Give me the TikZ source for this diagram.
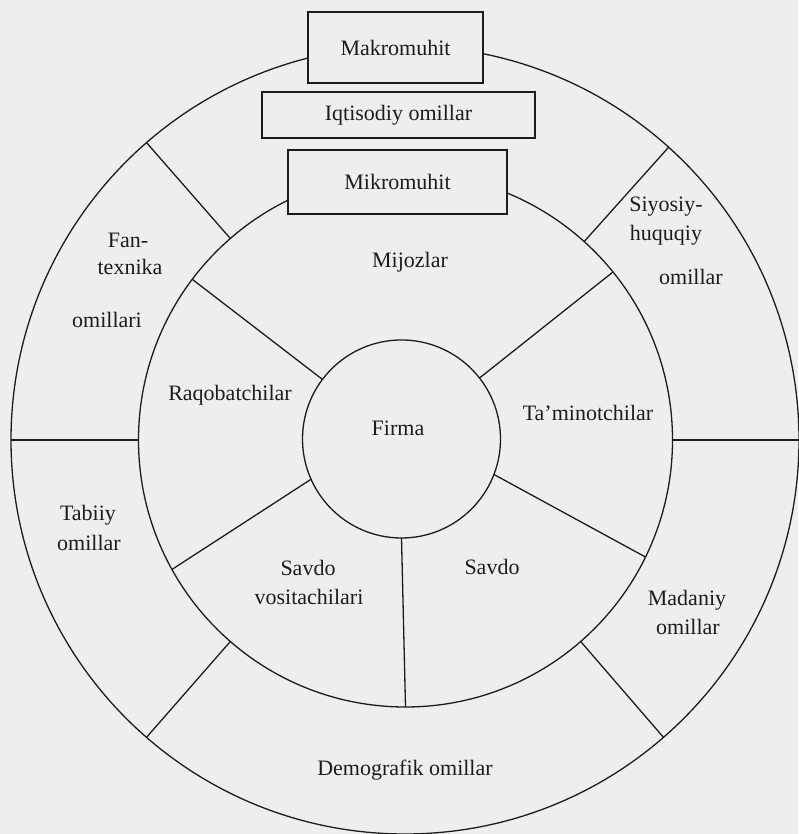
\documentclass[tikz,border=0pt]{standalone}
\usepackage{fontspec}
\setmainfont{Liberation Serif}
\definecolor{bg}{RGB}{238,238,238}
\definecolor{ink}{RGB}{28,28,28}
\begin{document}
\begin{tikzpicture}[x=1pt,y=1pt,
  ringc/.style={circle,draw=ink,line width=1.3pt,inner sep=0pt,outer sep=0pt},
  spoke/.style={draw=ink,line width=1.3pt},
  boxn/.style={draw=ink,line width=1.3pt,fill=bg,inner sep=0pt,outer sep=0pt,text=ink,font=\fontsize{22}{26}\selectfont},
  lbl/.style={text=ink,font=\fontsize{22}{26}\selectfont,inner sep=0pt}]
\fill[bg] (0,0) rectangle (798,834);
\useasboundingbox (0,0) rectangle (798,834);
% circles
\node[ringc,minimum size=788pt] (outer) at (405,394) {};
\node[ringc,minimum size=534pt] (mid) at (405.5,394) {};
\node[ringc,minimum size=198pt] (firma) at (401.5,395) {};
% inner ring spokes
\draw[spoke] (firma.143) -- (mid.143);
\draw[spoke] (firma.38) -- (mid.39);
\draw[spoke] (firma.-21.6) -- (mid.-26.3);
\draw[spoke] (firma.-90) -- (mid.-90);
\draw[spoke] (firma.204.8) -- (mid.209.9);
% outer ring spokes
\draw[spoke] (mid.131.8) -- (outer.131.8);
\draw[spoke] (mid.48.7) -- (outer.48.7);
\draw[spoke] (mid.0) -- (outer.0);
\draw[spoke] (mid.-49) -- (outer.-49);
\draw[spoke] (mid.229.7) -- (outer.229.7);
\draw[spoke] (mid.180) -- (outer.180);
% boxes
\node[boxn,minimum width=175pt,minimum height=71pt] (makro) at (395.5,786.5) {Makromuhit};
\node[boxn,minimum width=273pt,minimum height=46pt] (iqt) at (398.5,719) {Iqtisodiy omillar};
\node[boxn,minimum width=219pt,minimum height=64pt] (mikro) at (397.5,652) {Mikromuhit};
% labels
\node[lbl] (mijoz) at (410,572) {Mijozlar};
\node[lbl] (firmat) at (398,406) {Firma};
\node[lbl] (raqob) at (230,439) {Raqobatchilar};
\node[lbl] (tamin) at (588,421) {Ta’minotchilar};
\node[lbl] (fan1) at (128,594) {Fan-};
\node[lbl] (fan2) at (130,567) {texnika};
\node[lbl] (fan3) at (107,514) {omillari};
\node[lbl] (siy1) at (666,627) {Siyosiy-};
\node[lbl] (siy2) at (666,599) {huquqiy};
\node[lbl] (siy3) at (691,557) {omillar};
\node[lbl] (tab1) at (88,319) {Tabiiy};
\node[lbl] (tab2) at (89,291) {omillar};
\node[lbl] (sav1) at (308,266) {Savdo};
\node[lbl] (sav2) at (309,237) {vositachilari};
\node[lbl] (sav3) at (492,267) {Savdo};
\node[lbl] (mad1) at (687,234) {Madaniy};
\node[lbl] (mad2) at (688,207) {omillar};
\node[lbl] (demo) at (405,64) {Demografik omillar};
\end{tikzpicture}
\end{document}
